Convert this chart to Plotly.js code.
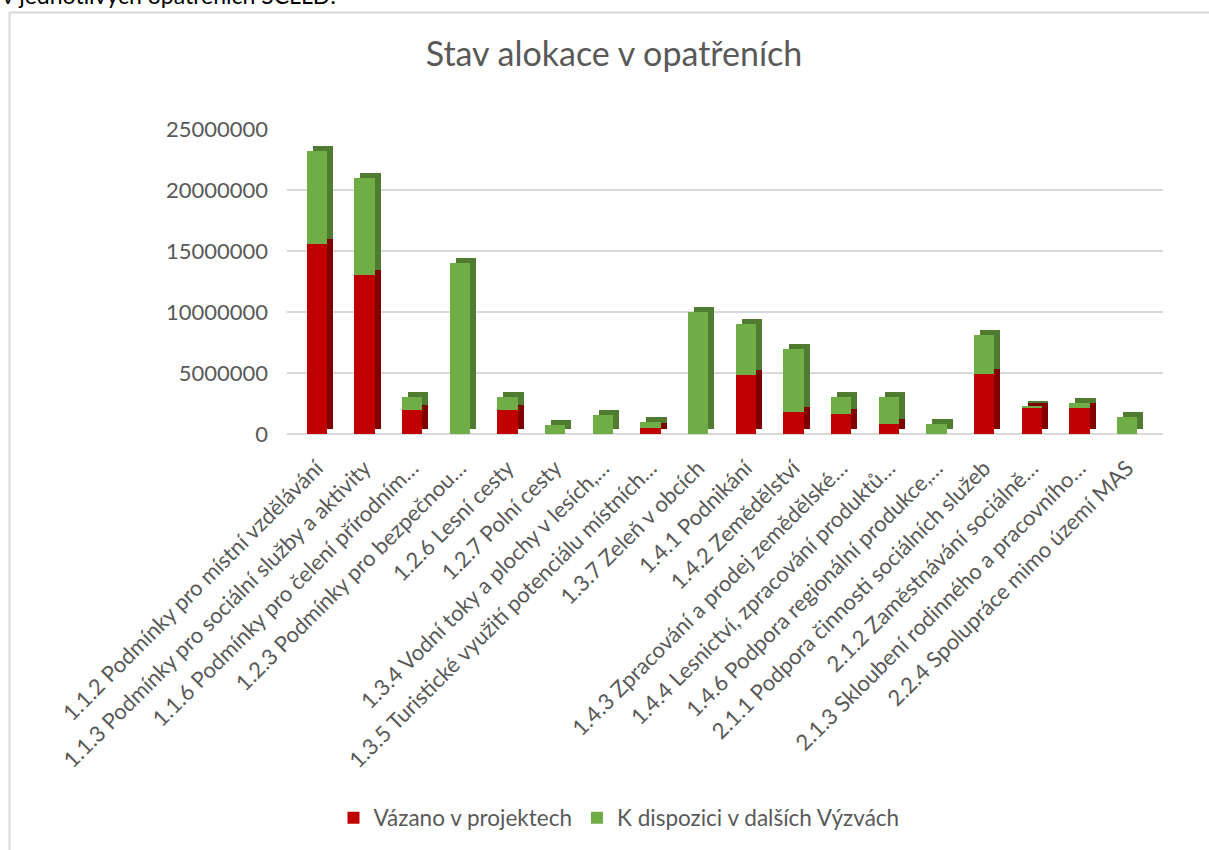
<!DOCTYPE html>
<html>
<head>
<meta charset="utf-8">
<script src="https://cdn.plot.ly/plotly-3.0.1.min.js"></script>
<style>
html,body{margin:0;padding:0;background:#fff;}
#chart{width:1209px;height:850px;}
</style>
</head>
<body>
<div id="chart"></div>
<script>
// ---- data ----
var categories = [
  "1.1.2 Podmínky pro místní vzdělávání",
  "1.1.3 Podmínky pro sociální služby a aktivity",
  "1.1.6 Podmínky pro čelení přírodním…",
  "1.2.3 Podmínky pro bezpečnou…",
  "1.2.6 Lesní cesty",
  "1.2.7 Polní cesty",
  "1.3.4 Vodní toky a plochy v lesích,…",
  "1.3.5 Turistické využití potenciálu místních…",
  "1.3.7 Zeleň v obcích",
  "1.4.1 Podnikání",
  "1.4.2 Zemědělství",
  "1.4.3 Zpracování a prodej zemědělské…",
  "1.4.4 Lesnictví, zpracování produktů…",
  "1.4.6 Podpora regionální produkce,…",
  "2.1.1 Podpora činnosti sociálních služeb",
  "2.1.2 Zaměstnávání sociálně…",
  "2.1.3 Skloubení rodinného a pracovního…",
  "2.2.4 Spolupráce mimo území MAS"
];
var vazano = [15550000, 13000000, 1930000, 0, 2000000, 0, 0, 460000, 0, 4850000, 1800000, 1650000, 790000, 0, 4930000, 2110000, 2110000, 0];
var kDispozici = [7650000, 8000000, 1070000, 14000000, 1000000, 700000, 1520000, 540000, 10000000, 4150000, 5170000, 1350000, 2210000, 800000, 3220000, 220000, 410000, 1380000];
var seriesNames = ["Vázano v projektech", "K dispozici v dalších Výzvách"];
var yTicks = [0, 5000000, 10000000, 15000000, 20000000, 25000000];
var headerText = "v jednotlivých opatřeních SCLLD:";
var chartTitle = "Stav alokace v opatřeních";

// ---- layout helpers (pixel -> paper) ----
var W = 1209, H = 850;
var mL = 287, mR = 1209 - 1163, mT = 129, mB = 415;
var pw = W - mL - mR, ph = H - mT - mB;
function px(x){ return (x - mL) / pw; }
function py(y){ return (H - mB - y) / ph; }

var FONT = "Lato, 'Open Sans', sans-serif";
var GRAY = "#595959";
var YMAX = 25000000;
var N = categories.length;
var barStart = 293, barEnd = 1151;           // px span of the category slots
var catPx = (barEnd - barStart) / N;
var catRange = [-0.5 - (barStart - mL) / catPx, N - 0.5 + (W - mR - barEnd) / catPx];
var depthX = 6, depthY = 5;                  // pseudo-3D depth in px
var shiftCat = depthX / catPx;
var shiftVal = depthY * YMAX / ph;
var zeros = categories.map(function(){ return 0; });

var traces = [
  // base axes: grid, y labels and category labels
  {type:"scatter", mode:"none", x:categories, y:zeros, xaxis:"x", yaxis:"y",
   showlegend:false, hoverinfo:"skip"},
  // depth (side / top faces)
  {type:"bar", name:seriesNames[0], x:categories, y:vazano, xaxis:"x3", yaxis:"y3",
   marker:{color:"#7E0000"}, showlegend:false, hoverinfo:"skip"},
  {type:"bar", name:seriesNames[1], x:categories, y:kDispozici, xaxis:"x3", yaxis:"y3",
   marker:{color:"#4F7C31"}, showlegend:false, hoverinfo:"skip"},
  // front faces
  {type:"bar", name:seriesNames[0], x:categories, y:vazano, xaxis:"x4", yaxis:"y4",
   marker:{color:"#C00000"}, hoverinfo:"x+y+name"},
  {type:"bar", name:seriesNames[1], x:categories, y:kDispozici, xaxis:"x4", yaxis:"y4",
   marker:{color:"#70AD47"}, hoverinfo:"x+y+name"}
];

var hidden = {showgrid:false, zeroline:false, showline:false, showticklabels:false,
              ticks:"", fixedrange:true};
function ax(extra){ var o = JSON.parse(JSON.stringify(hidden)); for (var k in extra) o[k] = extra[k]; return o; }

var layout = {
  width:W, height:H,
  margin:{l:mL, r:mR, t:mT, b:mB, pad:0},
  paper_bgcolor:"#ffffff", plot_bgcolor:"rgba(0,0,0,0)",
  barmode:"stack", bargap:0.58,
  font:{family:FONT, color:GRAY},
  title:{text:chartTitle, font:{family:FONT, size:34, color:GRAY},
         xref:"container", yref:"container", x:614/W, y:1-54/H, xanchor:"center", yanchor:"middle"},
  xaxis:{domain:[0,1], type:"category", anchor:"y", range:catRange, showgrid:false,
         zeroline:false, showline:false, ticks:"", tickangle:-45, ticklabelstandoff:16,
         tickfont:{family:FONT, size:22, color:GRAY}, fixedrange:true},
  yaxis:{range:[0,YMAX], tickmode:"array", tickvals:yTicks, tickformat:"d",
         tickfont:{family:FONT, size:22, color:GRAY}, showgrid:true,
         gridcolor:"#d9d9d9", gridwidth:2, zeroline:true, zerolinecolor:"#d9d9d9",
         zerolinewidth:2, showline:false, ticks:"", ticklabelstandoff:18,
         anchor:"x", fixedrange:true},
  xaxis3:ax({domain:[0,1], type:"category", anchor:"y3", range:[catRange[0]-shiftCat, catRange[1]-shiftCat]}),
  yaxis3:ax({domain:[0,1], anchor:"x3", range:[-shiftVal, YMAX-shiftVal]}),
  xaxis4:ax({domain:[0,1], type:"category", anchor:"y4", range:catRange}),
  yaxis4:ax({domain:[0,1], anchor:"x4", range:[0, YMAX]}),
  legend:{orientation:"h", x:px(619), y:py(818), xanchor:"center", yanchor:"middle",
          font:{family:FONT, size:22.5, color:GRAY}, traceorder:"normal",
          itemwidth:30, bgcolor:"rgba(0,0,0,0)"},
  annotations:[
    {text:headerText, xref:"paper", yref:"paper", x:px(0), y:py(-5),
     xanchor:"left", yanchor:"middle", showarrow:false,
     font:{family:FONT, size:23, color:"#000000"}}
  ],
  shapes:[
    {type:"line", xref:"paper", yref:"paper", x0:px(9), x1:px(1215), y0:py(12), y1:py(12),
     line:{color:"#d9d9d9", width:2}},
    {type:"line", xref:"paper", yref:"paper", x0:px(9.5), x1:px(9.5), y0:py(12), y1:py(860),
     line:{color:"#d9d9d9", width:2}}
  ]
};

Plotly.newPlot("chart", traces, layout, {displayModeBar:false});
</script>
</body>
</html>
